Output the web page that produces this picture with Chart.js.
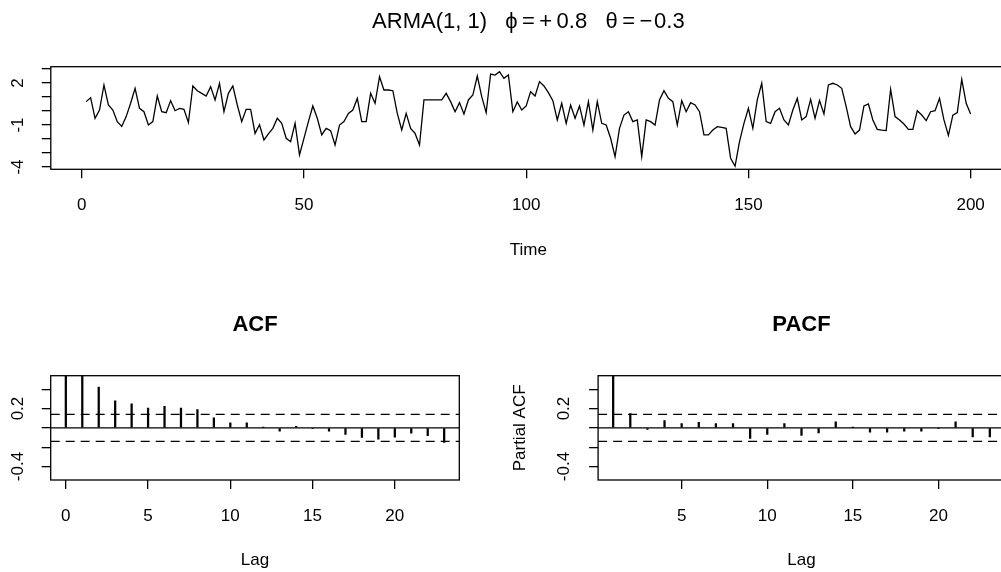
<!DOCTYPE html>
<html><head><meta charset="utf-8">
<script src="https://cdn.jsdelivr.net/npm/chart.js@4.4.1/dist/chart.umd.min.js"></script>
<style>
html,body{margin:0;padding:0;background:#fff;}
body{width:1001px;height:572px;overflow:hidden;position:relative;}
canvas{position:absolute;}
</style></head><body>
<canvas id="ts" width="1060" height="290" style="left:0;top:0;width:1060px;height:290px"></canvas>
<canvas id="acf" width="500" height="282" style="left:0;top:290px;width:500px;height:282px"></canvas>
<canvas id="pacf" width="560" height="282" style="left:500px;top:290px;width:560px;height:282px"></canvas>
<script>
// ---------- data ----------
const mainTitle = 'ARMA(1, 1)   \u03D5\u2009=\u2009+\u20090.8   \u03B8\u2009=\u2009\u2212\u200A0.3';
const tsStart = 1;
const tsValues = [
 0.67, 0.95,-0.52, 0.07, 1.86, 0.43, 0.07,-0.76,-1.10,-0.40,
 0.55, 1.62, 0.19,-0.05,-1.00,-0.76, 1.07,-0.05,-0.12, 0.74,
 0.02, 0.19, 0.12,-0.83, 1.79, 1.45, 1.26, 1.07, 1.74, 0.79,
 1.98,-0.05, 1.26, 1.79, 0.43,-0.76, 0.12, 0.12,-1.60,-0.98,
-2.07,-1.64,-1.24,-0.52,-0.88,-1.95,-2.19,-0.88,-3.14,-1.95,
-0.76, 0.36,-0.52,-1.71,-1.24,-1.40,-2.43,-1.00,-0.76,-0.17,
 0.07, 0.90,-0.76,-0.76, 1.26, 0.55, 2.45, 1.50, 1.50, 1.45,
-0.17,-1.36,-0.17,-1.24,-1.60,-2.43, 0.79, 0.79, 0.79, 0.79,
 0.79, 1.26, 0.67,-0.05, 0.60,-0.21, 0.79, 1.14, 2.50, 1.02,
-0.12, 2.64, 2.57, 2.81, 2.33, 2.57,-0.05, 0.64, 0.07, 0.36,
 1.38, 1.07, 2.10, 1.79, 1.31, 0.74,-0.64, 0.55,-0.88, 0.43,
-0.52, 0.36,-1.00, 0.67,-1.36, 0.67,-0.88,-1.00,-1.95,-3.26,
-1.24,-0.29,-0.05,-0.76,-0.64,-3.26,-0.64,-0.76,-1.00, 0.79,
 1.45, 0.90, 0.67,-1.00, 0.74,-0.05, 0.60, 0.43,-0.05,-1.71,
-1.71,-1.36,-1.12,-1.17,-1.24,-3.38,-3.93,-2.19,-0.88, 0.19,
-1.24, 0.79, 1.98,-0.76,-0.88,-0.05, 0.19,-0.64,-1.00, 0.07,
 0.90,-0.64,-0.40, 0.83,-0.52, 0.74,-0.21, 1.86, 1.98, 1.86,
 1.62, 0.31,-1.12,-1.64,-1.36, 0.36, 0.50,-0.64,-1.31,-1.36,
-1.40, 1.55,-0.40,-0.64,-0.93,-1.31,-1.31, 0.02,-0.29,-0.69,
-0.05, 0.02, 0.90,-0.64,-1.74,-0.29,-0.12, 2.26, 0.55,-0.21
];
const tsXTicks = [0, 50, 100, 150, 200];
const tsYTicks = [-4, -3, -2, -1, 0, 1, 2, 3];
const tsYLabels = [-4, -1, 2];

const acfLags = [0,1,2,3,4,5,6,7,8,9,10,11,12,13,14,15,16,17,18,19,20,21,22,23];
const acfValues = [1.0, 0.62, 0.423, 0.281, 0.25, 0.206, 0.223, 0.206, 0.189, 0.103, 0.052, 0.052,
                   0.005, -0.035, 0.017, -0.005, -0.035, -0.069, -0.10, -0.117, -0.096, -0.055, -0.082, -0.152];
const pacfLags = [1,2,3,4,5,6,7,8,9,10,11,12,13,14,15,16,17,18,19,20,21,22,23];
const pacfValues = [0.62, 0.147, -0.017, 0.075, 0.044, 0.058, 0.044, 0.044, -0.11, -0.069, 0.044, -0.079,
                    -0.052, 0.062, 0.003, -0.045, -0.045, -0.034, -0.034, -0.003, 0.062, -0.093, -0.093];
const ciLimit = 0.14;
const acfXTicks = [0, 5, 10, 15, 20];
const pacfXTicks = [5, 10, 15, 20];
const corrYTicks = [-0.4, -0.2, 0, 0.2, 0.4];
const corrYLabels = [0.2, -0.4];

// ---------- style ----------
Chart.defaults.font.family = '"Liberation Sans", Arial, sans-serif';
Chart.defaults.color = '#000';
const LW = 1.3;
const boxPlugin = {
  id: 'box',
  afterDatasetsDraw(chart) {
    const {ctx, chartArea: a} = chart;
    ctx.save();
    ctx.strokeStyle = '#000';
    ctx.lineWidth = LW;
    ctx.strokeRect(a.left, a.top, a.right - a.left, a.bottom - a.top);
    ctx.restore();
  }
};
const gridOpts = {drawOnChartArea: false, drawTicks: true, tickLength: 9, color: '#000', lineWidth: LW, offset: false};

function xAxis(min, max, ticks, height, title, titlePadBottom) {
  return {
    type: 'linear', min, max, offset: false,
    afterBuildTicks: ax => { ax.ticks = ticks.map(v => ({value: v})); },
    afterFit: ax => { ax.height = height; },
    grid: gridOpts,
    border: {display: false},
    ticks: {padding: 17, font: {size: 17}, maxRotation: 0, autoSkip: false, color: '#000',
            callback: v => String(v)},
    title: {display: true, text: title, font: {size: 17}, color: '#000', padding: {top: 0, bottom: titlePadBottom}}
  };
}
function yAxis(min, max, ticks, labels, width, pad, title, titlePadTop) {
  return {
    type: 'linear', min, max, offset: false,
    afterBuildTicks: ax => { ax.ticks = ticks.map(v => ({value: v})); },
    afterFit: ax => { ax.width = width; },
    grid: gridOpts,
    border: {display: false},
    ticks: {padding: pad, font: {size: 17}, minRotation: 90, maxRotation: 90, crossAlign: 'center',
            autoSkip: false, color: '#000',
            callback: v => labels.some(l => Math.abs(l - v) < 1e-9) ? String(v) : ''},
    title: title ? {display: true, text: title, font: {size: 17}, color: '#000', padding: {top: titlePadTop, bottom: 0}}
                 : {display: false}
  };
}
const baseOpts = {responsive: false, animation: false, devicePixelRatio: 1, events: []};

// ---------- time series ----------
new Chart(document.getElementById('ts'), {
  type: 'line',
  data: {datasets: [{
    data: tsValues.map((v, i) => ({x: tsStart + i, y: v})),
    borderColor: '#000', borderWidth: LW, pointRadius: 0, tension: 0, fill: false
  }]},
  options: Object.assign({}, baseOpts, {
    layout: {padding: {left: 0, right: 54, top: 0, bottom: 0}},
    plugins: {
      legend: {display: false}, tooltip: {enabled: false},
      title: {display: true, text: mainTitle, fullSize: false, color: '#000',
              font: {size: 22, weight: 'normal'}, padding: {top: 8.5, bottom: 31.8}}
    },
    scales: {
      x: xAxis(-6.96, 207.96, tsXTicks, 120.7, 'Time', 29.8),
      y: yAxis(-4.164, 3.164, tsYTicks, tsYLabels, 50.8, 16.3, null, 0)
    }
  }),
  plugins: [boxPlugin]
});

// ---------- correlograms ----------
function corrChart(id, lags, vals, xmin, xmax, xticks, yWidth, yPad, yTitle, rightPad, title) {
  const ref = (y, dash) => ({
    type: 'line', data: [{x: xmin, y}, {x: xmax, y}],
    borderColor: '#000', borderWidth: LW, borderDash: dash, pointRadius: 0, fill: false
  });
  new Chart(document.getElementById(id), {
    type: 'bar',
    data: {datasets: [
      {type: 'bar', data: lags.map((l, i) => ({x: l, y: vals[i]})), backgroundColor: '#000',
       borderWidth: 0, barThickness: 1.6, grouped: false},
      ref(0, []),
      ref(ciLimit, [9, 6]),
      ref(-ciLimit, [9, 6])
    ]},
    options: Object.assign({}, baseOpts, {
      layout: {padding: {left: 0, right: rightPad, top: 0, bottom: 0}},
      plugins: {
        legend: {display: false}, tooltip: {enabled: false},
        title: {display: true, text: title, fullSize: false, color: '#000',
                font: {size: 22, weight: 'bold'}, padding: {top: 21.8, bottom: 37.5}}
      },
      scales: {
        x: xAxis(xmin, xmax, xticks, 92, 'Lag', 1.8),
        y: yAxis(-0.54, 0.54, corrYTicks, corrYLabels, yWidth, yPad, yTitle, 9.8)
      }
    }),
    plugins: [boxPlugin]
  });
}
corrChart('acf', acfLags, acfValues, -0.92, 23.92, acfXTicks, 50.7, 8.4, null, 40.7, 'ACF');
corrChart('pacf', pacfLags, pacfValues, 0.12, 23.88, pacfXTicks, 98.1, 10.4, 'Partial ACF', 55.1, 'PACF');
</script>
</body></html>
